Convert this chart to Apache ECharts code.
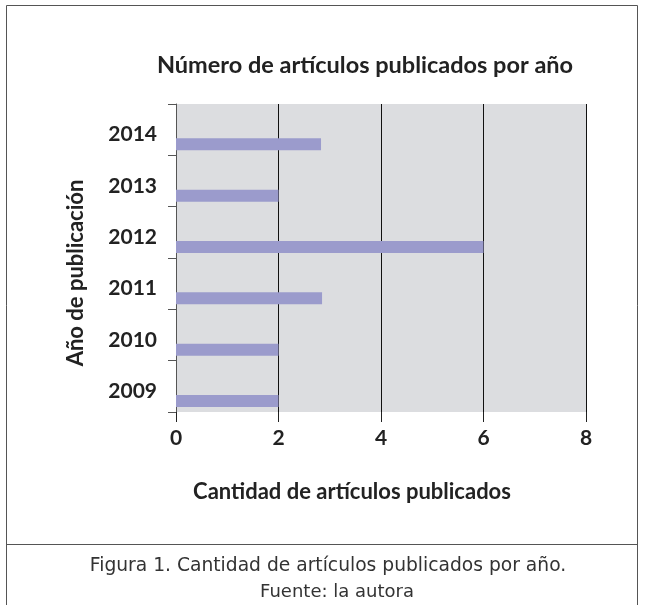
<!DOCTYPE html>
<html>
<head>
<meta charset="utf-8">
<script src="https://cdn.jsdelivr.net/npm/echarts@6/dist/echarts.min.js"></script>
<style>
  html, body { margin: 0; padding: 0; background: #fff; }
  #main { width: 645px; height: 605px; }
</style>
</head>
<body>
<div id="main"></div>
<script>
// datos
const years = ["2009", "2010", "2011", "2012", "2013", "2014"];
const articles = [2, 2, 2.85, 6, 2, 2.83];
const spacer = [0, 0, 0, 0, 0, 0]; // serie vacía para bajar la barra dentro de la banda
const xTicks = [0, 2, 4, 6, 8];

const titleText = "Número de artículos publicados por año";
const xName = "Cantidad de artículos publicados";
const yName = "Año de publicación";
const caption1 = "Figura 1. Cantidad de artículos publicados por año.";
const caption2 = "Fuente: la autora";

const chart = echarts.init(document.getElementById("main"));
const boldFont = "Lato";

chart.setOption({
  animation: false,
  title: {
    text: titleText,
    left: 360,
    textAlign: "center",
    top: 48,
    textStyle: { fontFamily: boldFont, fontWeight: "bold", fontSize: 23.5, color: "#222" },
  },
  grid: {
    left: 176,
    right: 59,
    top: 104,
    bottom: 193,
    show: true,
    backgroundColor: "#dcdde0",
    borderWidth: 0,
  },
  xAxis: {
    type: "value",
    min: xTicks[0],
    max: xTicks[xTicks.length - 1],
    interval: 2,
    name: xName,
    nameLocation: "middle",
    nameGap: 69,
    nameTextStyle: {
      fontFamily: boldFont, fontWeight: "bold", fontSize: 22, color: "#222",
      padding: [0, 58, 0, 0],
    },
    axisLine: { show: false },
    axisTick: { show: true, length: 10, lineStyle: { color: "#222" } },
    axisLabel: { margin: 16, fontFamily: boldFont, fontWeight: "bold", fontSize: 21, color: "#222" },
    splitLine: { show: true, lineStyle: { color: "#111", width: 1 } },
  },
  yAxis: {
    type: "category",
    data: years,
    name: yName,
    nameLocation: "middle",
    nameGap: 89,
    nameTextStyle: {
      fontFamily: boldFont, fontWeight: "bold", fontSize: 22, color: "#222",
      padding: [0, 30, 0, 0],
    },
    axisLine: { show: true, lineStyle: { color: "#555" } },
    axisTick: { show: true, length: 8, lineStyle: { color: "#555" } },
    axisLabel: {
      margin: 19, fontFamily: boldFont, fontWeight: "bold", fontSize: 21, color: "#222",
      verticalAlign: "top", lineHeight: 10,
    },
  },
  series: [
    {
      type: "bar",
      data: spacer,
      barWidth: 12,
      barGap: "145%",
      silent: true,
      itemStyle: { color: "rgba(0,0,0,0)" },
    },
    {
      name: "Artículos",
      type: "bar",
      data: articles,
      barWidth: 12,
      barGap: "145%",
      itemStyle: { color: "#9b9bcc" },
    },
  ],
  graphic: [
    {
      type: "rect",
      shape: { x: 6.5, y: 5.5, width: 631, height: 610 },
      style: { fill: "none", stroke: "#555", lineWidth: 1 },
      silent: true,
    },
    {
      type: "line",
      shape: { x1: 6.5, y1: 544.5, x2: 637.5, y2: 544.5 },
      style: { stroke: "#555", lineWidth: 1 },
      silent: true,
    },
    {
      type: "text",
      x: 328,
      y: 566,
      style: {
        text: caption1, align: "center", verticalAlign: "middle",
        font: "18.7px 'DejaVu Sans'", fill: "#333",
      },
    },
    {
      type: "text",
      x: 337,
      y: 592,
      style: {
        text: caption2, align: "center", verticalAlign: "middle",
        font: "18px 'DejaVu Sans'", fill: "#333",
      },
    },
  ],
});
</script>
</body>
</html>
